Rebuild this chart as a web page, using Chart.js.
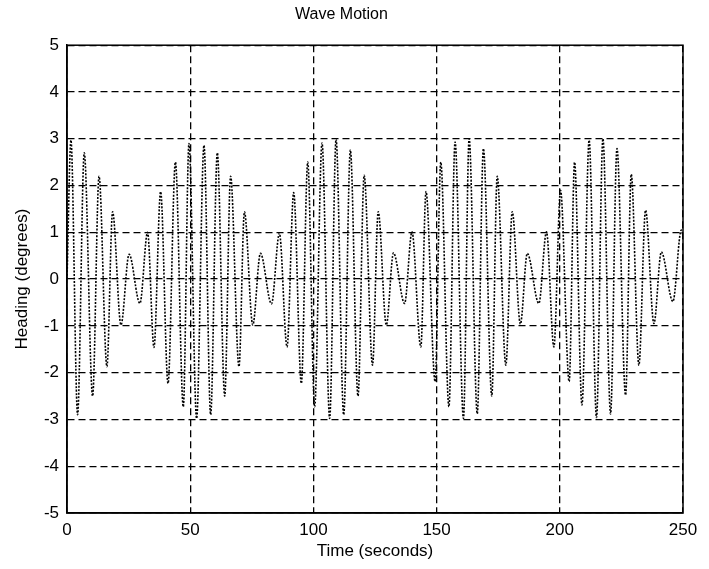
<!DOCTYPE html>
<html>
<head>
<meta charset="utf-8">
<script src="https://cdn.jsdelivr.net/npm/chart.js@4/dist/chart.umd.min.js"></script>
<style>
  html, body { margin: 0; padding: 0; background: #fff; }
  #wrap { width: 709px; height: 569px; }
</style>
</head>
<body>
<div id="wrap"><canvas id="myChart" width="709" height="569"></canvas></div>
<script>
// time (s) of each turning point of the trace
var times = [
    0, 1.6, 4.3, 7.0, 10.4, 13.0, 16.2, 18.5, 21.9, 25.2, 29.6, 32.7, 35.3, 38.0, 41.0, 44.0,
    47.2, 49.5, 52.6, 55.6, 58.3, 61.0, 64.0, 66.4, 69.8, 72.0, 75.4, 78.5, 83.0, 86.2, 89.3,
    92.0, 95.1, 97.7, 100.5, 103.5, 106.6, 109.2, 112.3, 115.0, 118.1, 120.6, 124.0, 126.3,
    129.6, 132.5, 137.0, 140.0, 143.6, 145.7, 149.4, 151.7, 155.0, 157.5, 160.9, 163.2, 166.5,
    169.0, 172.4, 174.6, 178.1, 180.7, 184.0, 186.8, 191.5, 194.6, 197.6, 200.3, 203.8, 206.0,
    209.0, 211.9, 214.9, 217.5, 220.6, 223.2, 226.7, 229.0, 232.1, 234.8, 238.2, 241.2, 245.9,
    249.3, 250
];
// heading (degrees) at those points
var heading = [
    0, 2.97, -2.9, 2.7, -2.5, 2.2, -1.87, 1.44, -0.98, 0.53, -0.52, 1.0, -1.46, 1.87, -2.23, 2.5,
    -2.73, 2.9, -2.98, 2.86, -2.9, 2.7, -2.5, 2.2, -1.87, 1.44, -0.98, 0.55, -0.53, 0.98, -1.45,
    1.85, -2.23, 2.5, -2.73, 2.91, -2.98, 2.99, -2.9, 2.76, -2.5, 2.22, -1.84, 1.44,
    -0.98, 0.56, -0.52, 1.01, -1.45, 1.87, -2.19, 2.5, -2.73, 2.93, -2.98, 3.0, -2.88,
    2.79, -2.5, 2.2, -1.84, 1.44, -0.96, 0.55, -0.52, 1.01, -1.45, 1.9, -2.19, 2.5,
    -2.69, 2.97, -2.96, 3.0, -2.88, 2.79, -2.48, 2.24, -1.84, 1.47, -0.95, 0.58, -0.48,
    1.05, 0.9
];
var xTicks = [0, 50, 100, 150, 200, 250];
var yTicks = [-5, -4, -3, -2, -1, 0, 1, 2, 3, 4, 5];

var points = times.map(function (t, i) { return {x: t, y: heading[i]}; });

// solid box round the plot (grid lines are dashed)
var frame = {
    id: 'frame',
    afterDraw: function (chart) {
        var a = chart.chartArea, ctx = chart.ctx;
        ctx.save();
        ctx.setLineDash([]);
        ctx.strokeStyle = '#000';
        ctx.lineWidth = 1.5;
        ctx.strokeRect(a.left, a.top, a.right - a.left, a.bottom - a.top);
        ctx.restore();
    }
};

var font = "'Liberation Sans', Arial, sans-serif";

var myChart = new Chart(
    document.getElementById('myChart'),
    {
        type: 'line',
        data: {
            datasets: [{
                data: points,
                borderColor: '#000',
                borderWidth: 1.6,
                borderDash: [2, 1.5],
                pointRadius: 0,
                cubicInterpolationMode: 'monotone',
                fill: false
            }]
        },
        options: {
            responsive: false,
            animation: false,
            layout: { padding: { left: 0, right: 26, top: 0, bottom: 0 } },
            plugins: {
                legend: { display: false },
                tooltip: { enabled: false },
                title: {
                    display: true,
                    text: 'Wave Motion',
                    color: '#000',
                    font: { family: font, size: 16, weight: 'normal' },
                    padding: { top: 5, bottom: 21 }
                }
            },
            scales: {
                x: {
                    type: 'linear',
                    min: 0,
                    max: 250,
                    afterBuildTicks: function (scale) {
                        scale.ticks = xTicks.map(function (v) { return {value: v}; });
                    },
                    afterFit: function (scale) { scale.height = 56; },
                    grid: { color: '#000', lineWidth: 1.3, drawTicks: false },
                    border: { display: true, color: '#000', width: 1.5, dash: [7, 4] },
                    ticks: {
                        color: '#000',
                        padding: 7,
                        maxRotation: 0,
                        font: { family: font, size: 17 }
                    },
                    title: {
                        display: true,
                        text: 'Time (seconds)',
                        color: '#000',
                        font: { family: font, size: 17 },
                        padding: { top: 0, bottom: 7 }
                    }
                },
                y: {
                    min: -5,
                    max: 5,
                    afterBuildTicks: function (scale) {
                        scale.ticks = yTicks.map(function (v) { return {value: v}; });
                    },
                    afterFit: function (scale) { scale.width = 67; },
                    grid: { color: '#000', lineWidth: 1.3, drawTicks: false },
                    border: { display: true, color: '#000', width: 1.5, dash: [7, 4] },
                    ticks: {
                        color: '#000',
                        padding: 8,
                        font: { family: font, size: 17 }
                    },
                    title: {
                        display: true,
                        text: 'Heading (degrees)',
                        color: '#000',
                        font: { family: font, size: 17 },
                        padding: { top: 12, bottom: 0 }
                    }
                }
            }
        },
        plugins: [frame]
    }
);
</script>
</body>
</html>
